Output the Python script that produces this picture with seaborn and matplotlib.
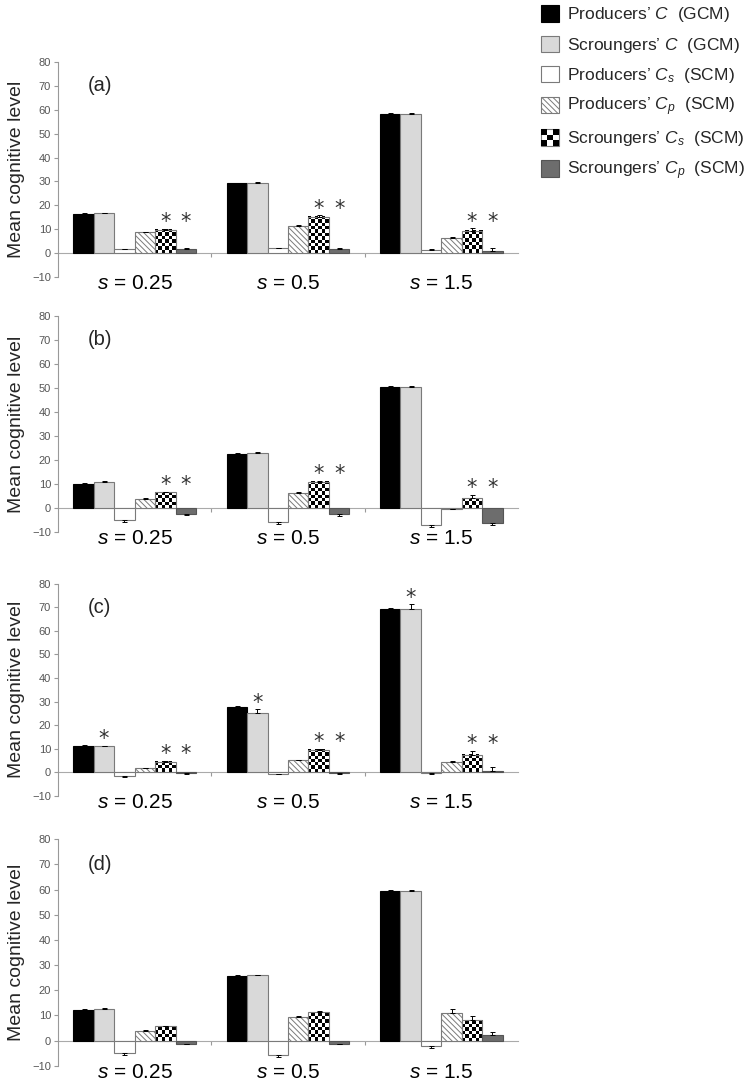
import numpy as np
import pandas as pd
import matplotlib
matplotlib.use("Agg")
import matplotlib.pyplot as plt
import seaborn as sns
from matplotlib.patches import Patch, Rectangle
from matplotlib.legend_handler import HandlerBase

# --- DATA ---
groups = ["0.25", "0.5", "1.5"]
group_labels = ["$s$ = 0.25", "$s$ = 0.5", "$s$ = 1.5"]
series = ["Producers’ $C$  (GCM)", "Scroungers’ $C$  (GCM)",
          "Producers’ $C_s$  (SCM)", "Producers’ $C_p$  (SCM)",
          "Scroungers’ $C_s$  (SCM)", "Scroungers’ $C_p$  (SCM)"]
panel_names = ["(a)", "(b)", "(c)", "(d)"]

# mean values, rows = s groups, columns = series
vals_a = [[16.4, 16.7, 1.6, 8.8, 9.8, 1.9],
          [29.2, 29.5, 2.1, 11.3, 15.3, 1.6],
          [58.1, 58.3, 1.3, 6.5, 9.2, 1.0]]
vals_b = [[10.0, 10.8, -5.3, 3.8, 6.4, -2.6],
          [22.4, 22.9, -6.0, 6.1, 10.9, -2.6],
          [50.3, 50.6, -7.2, -0.4, 4.0, -6.2]]
vals_c = [[11.4, 11.1, -1.6, 1.7, 4.5, -0.2],
          [27.7, 25.3, -0.5, 5.1, 9.7, -0.2],
          [69.3, 69.5, -0.4, 4.4, 7.4, 0.4]]
vals_d = [[12.2, 12.5, -5.0, 3.7, 5.6, -1.2],
          [25.8, 25.9, -5.7, 9.4, 11.4, -1.2],
          [59.5, 59.6, -2.3, 10.8, 8.2, 2.3]]

# error bars (one-sided, away from zero)
err_a = [[0.3, 0.3, 0.3, 0.3, 0.4, 0.3],
         [0.3, 0.3, 0.3, 0.4, 0.6, 0.5],
         [0.4, 0.4, 0.3, 0.3, 1.2, 1.3]]
err_b = [[0.3, 0.3, 0.8, 0.3, 0.4, 0.6],
         [0.3, 0.3, 0.8, 0.4, 0.5, 0.7],
         [0.4, 0.3, 0.8, 0.2, 1.4, 0.8]]
err_c = [[0.3, 0.3, 0.3, 0.3, 0.5, 0.3],
         [0.3, 1.5, 0.3, 0.3, 0.4, 0.3],
         [0.5, 1.7, 0.3, 0.5, 1.8, 1.8]]
err_d = [[0.3, 0.3, 0.9, 0.3, 0.3, 0.3],
         [0.3, 0.3, 0.9, 0.4, 0.4, 0.3],
         [0.3, 0.3, 0.6, 1.6, 1.5, 1.1]]

# significance stars: series indices starred in every group
stars_a = [4, 5]
stars_b = [4, 5]
stars_c = [1, 4, 5]
stars_d = []

all_vals = [vals_a, vals_b, vals_c, vals_d]
all_errs = [err_a, err_b, err_c, err_d]
all_stars = [stars_a, stars_b, stars_c, stars_d]

# --- STYLE ---
face = ["black", "#d9d9d9", "white", "white", "white", "#6d6d6d"]
edge = ["black", "#7a7a7a", "#7a7a7a", "#7a7a7a", "#7a7a7a", "#555555"]
hatch = [None, None, None, "\\" * 6, None, None]

sns.set_style("white")
plt.rcParams["font.family"] = ["Liberation Sans", "DejaVu Sans"]
plt.rcParams["mathtext.fontset"] = "custom"
plt.rcParams["mathtext.rm"] = "Liberation Sans"
plt.rcParams["mathtext.it"] = "Liberation Sans:italic"
plt.rcParams["hatch.linewidth"] = 0.7

fig = plt.figure(figsize=(7.55, 10.83), dpi=100)

# axes boxes (top, bottom) in figure fraction
boxes = [(0.943, 0.744), (0.708, 0.509), (0.461, 0.265), (0.225, 0.016)]
ymin, ymax = -10, 80
chk_px = 3.4

for k in range(4):
    top, bot = boxes[k]
    ax = fig.add_axes([0.0768, bot, 0.6093, top - bot])
    df = pd.DataFrame({
        "group": np.repeat(groups, len(series)),
        "series": np.tile(series, len(groups)),
        "value": np.ravel(all_vals[k]),
    })
    sns.barplot(data=df, x="group", y="value", hue="series", order=groups,
                hue_order=series, palette=dict(zip(series, face)),
                saturation=1, errorbar=None, width=0.8, linewidth=0.8,
                legend=False, ax=ax)
    ax.set_xlim(-0.5, 2.5)
    ax.set_ylim(ymin, ymax)

    err = np.array(all_errs[k])
    v = np.array(all_vals[k])
    tops = {}
    bar_conts = list(ax.containers)
    for i, cont in enumerate(bar_conts):
        xs = []
        for j, p in enumerate(cont):
            p.set_edgecolor(edge[i])
            p.set_linewidth(0.8)
            if hatch[i]:
                p.set_hatch(hatch[i])
            if i == 4:
                # checkerboard fill
                x0, w = p.get_x(), p.get_width()
                y0, h = p.get_y(), p.get_height()
                ph = abs(ax.transData.transform((0, y0 + h))[1]
                         - ax.transData.transform((0, y0))[1])
                ny = max(1, int(round(ph / chk_px)))
                chk = np.add.outer(np.arange(ny), np.arange(6)) % 2
                ax.imshow(chk, cmap="gray", extent=(x0, x0 + w, y0, y0 + h),
                          origin="lower", interpolation="nearest",
                          aspect="auto", zorder=p.get_zorder() - 0.1)
                p.set_facecolor("none")
            xs.append(p.get_x() + p.get_width() / 2)
        e = err[:, i]
        vv = v[:, i]
        lo = np.where(vv < 0, e, 0)
        hi = np.where(vv >= 0, e, 0)
        ax.errorbar(xs, vv, yerr=[lo, hi], fmt="none", ecolor="black",
                    elinewidth=0.7, capsize=1.8, capthick=0.7, zorder=3)
        for j in range(len(groups)):
            tops[(i, j)] = (xs[j], max(vv[j], 0) + hi[j])

    # stars; the two scrounger SCM stars share one height
    for j in range(len(groups)):
        pair = [s for s in all_stars[k] if s in (4, 5)]
        pair_y = max([tops[(s, j)][1] for s in pair]) if pair else 0
        for s in all_stars[k]:
            x, y = tops[(s, j)]
            if s in (4, 5):
                y = pair_y
            ax.text(x, y + 0.3, "*", ha="center", va="baseline", fontsize=15,
                    family="DejaVu Sans", color="#333333")

    ax.set_xlim(-0.5, 2.5)
    ax.set_ylim(ymin, ymax)
    ax.set_yticks(np.arange(-10, 81, 10))
    ax.set_xticks(range(len(groups)), group_labels)
    ax.tick_params(axis="x", length=0, pad=-2, labelsize=15, labelcolor="black")
    ax.tick_params(axis="y", length=3, width=0.8, color="#999999",
                   labelsize=8, labelcolor="#555555", pad=2, left=True)
    for sp in ["top", "right", "bottom"]:
        ax.spines[sp].set_visible(False)
    ax.spines["left"].set_color("#999999")
    ax.spines["left"].set_linewidth(0.8)
    ax.set_xlabel("")
    ax.set_ylabel("Mean cognitive level", fontsize=14)
    ax.yaxis.set_label_coords(-0.072, 0.5)

    # zero line with separator ticks
    zero = (0 - ymin) / (ymax - ymin)
    sec = ax.secondary_xaxis(zero)
    sec.set_xticks([0.5, 1.5])
    sec.tick_params(length=3, width=0.8, color="#999999", labelbottom=False)
    sec.spines["bottom"].set_color("#aaaaaa")
    sec.spines["bottom"].set_linewidth(0.8)

    ax.text(0.065, 0.89, panel_names[k], transform=ax.transAxes,
            fontsize=14.5, va="center", ha="left")


class CheckerHandler(HandlerBase):
    def create_artists(self, legend, orig, xd, yd, width, height, fontsize, trans):
        arts = [Rectangle((-xd, -yd), width, height, facecolor="white",
                          edgecolor="#7a7a7a", linewidth=0.8, transform=trans)]
        n = 3
        for a in range(n):
            for b in range(n):
                if (a + b) % 2 == 0:
                    arts.append(Rectangle((-xd + a * width / n, -yd + b * height / n),
                                          width / n, height / n, facecolor="black",
                                          edgecolor="none", transform=trans))
        return arts


handles = []
for i in range(len(series)):
    handles.append(Patch(facecolor=face[i], edgecolor=edge[i], linewidth=0.8,
                         hatch=hatch[i]))
handler_map = {handles[4]: CheckerHandler()}
fig.legend(handles, series, loc="upper left", bbox_to_anchor=(0.7166, 0.995),
           frameon=False, fontsize=12.5, handlelength=1.05, handleheight=1.05,
           handletextpad=0.45, labelspacing=0.64, borderpad=0, borderaxespad=0,
           handler_map=handler_map)

fig.savefig("out.png", dpi=100)
